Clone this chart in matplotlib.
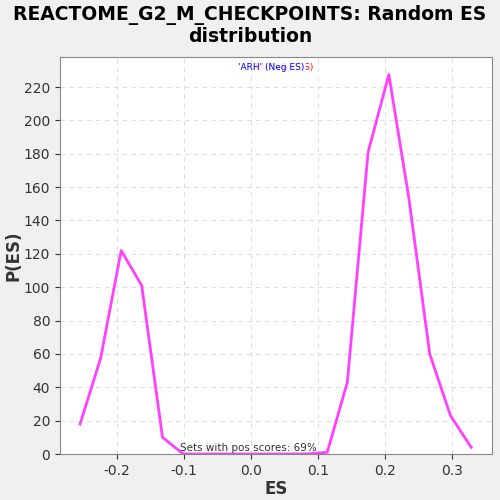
import matplotlib.pyplot as plt

# data
es = [-0.255, -0.2243, -0.1936, -0.163, -0.132, -0.101, -0.071, -0.040,
      -0.009, 0.021, 0.052, 0.083, 0.114, 0.144, 0.175, 0.206, 0.236,
      0.267, 0.298, 0.329]
p_es = [18, 57.5, 122, 101, 10, 0, 0, 0, 0, 0, 0, 0, 1, 43, 181, 227.5,
        153, 60, 23, 4]
xticks = [-0.2, -0.1, 0.0, 0.1, 0.2, 0.3]
yticks = list(range(0, 221, 20))

fig = plt.figure(figsize=(5, 5), dpi=100, facecolor="#f0f0f0")
ax = fig.add_axes([0.12, 0.092, 0.864, 0.794])
ax.set_facecolor("white")

ax.plot(es, p_es, color="#ff40ff", lw=2)

ax.set_xlim(-0.285, 0.36)
ax.set_ylim(0, 238)
ax.set_xticks(xticks)
ax.set_xticklabels(["-0.2", "-0.1", "0.0", "0.1", "0.2", "0.3"])
ax.set_yticks(yticks)
ax.tick_params(labelsize=10, colors="#333333")
ax.grid(True, ls=(0, (4, 4)), color="#dddddd", lw=0.8)
for s in ax.spines.values():
    s.set_color("#888888")

ax.set_xlabel("ES", fontsize=12, fontweight="bold", color="#333333", labelpad=2)
ax.set_ylabel("P(ES)", fontsize=12, fontweight="bold", color="#333333", labelpad=1)
fig.suptitle("REACTOME_G2_M_CHECKPOINTS: Random ES\ndistribution",
             fontsize=13.5, fontweight="bold", y=0.99, linespacing=1.15)

# overlapping legend labels (blue one sits on top of the red one)
ax.text(0.586, 0.985, "'ARH' (Pos ES)", transform=ax.transAxes, color="red",
        fontsize=6.5, ha="right", va="top")
ax.text(0.413, 0.985, "'ARH' (Neg ES)", transform=ax.transAxes, color="blue",
        fontsize=6.5, ha="left", va="top",
        bbox=dict(facecolor="white", edgecolor="none", alpha=0.85, pad=0.5))
ax.text(-0.004, 0.3, "Sets with pos scores: 69%", fontsize=7.5, color="#333333",
        ha="center", va="bottom")

fig.savefig("out.png", dpi=100, facecolor=fig.get_facecolor())
